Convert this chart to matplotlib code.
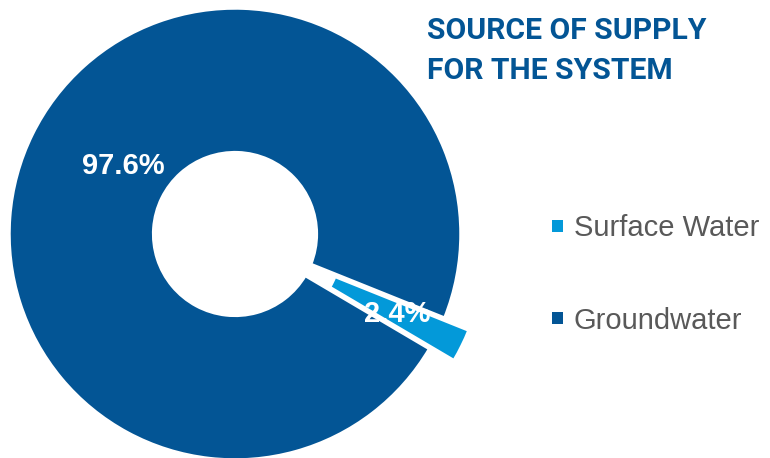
import numpy as np
import matplotlib
matplotlib.use("Agg")
import matplotlib.pyplot as plt
from matplotlib.patches import Patch

labels = ['Surface Water', 'Groundwater']
shares = [2.4, 97.6]
colors = ['#0399d9', '#035595']
explode = [0.12, 0]
title_lines = ['SOURCE OF SUPPLY', 'FOR THE SYSTEM']


def plot_donut():
    fig = plt.figure(figsize=(7.7, 4.58), dpi=100)
    ax = fig.add_axes([9 / 770, -2 / 458, 452 / 770, 452 / 458])

    # small slice centred at about -26 degrees
    start = -26.2 - shares[0] / 100 * 360 / 2
    wedges, texts, autotexts = ax.pie(
        shares, colors=colors, explode=explode, startangle=start,
        autopct='%.1f%%', pctdistance=0.68,
        wedgeprops=dict(width=0.64, edgecolor='white', linewidth=2.5),
        textprops=dict(color='white', fontsize=21, fontweight='bold',
                       family=['Liberation Sans', 'DejaVu Sans']))
    for w in wedges:
        w.set_clip_on(False)

    # big label sits closer to the hole in the original
    x, y = autotexts[1].get_position()
    ang = np.arctan2(y, x) - np.radians(5)
    autotexts[1].set_position((0.58 * np.cos(ang), 0.58 * np.sin(ang)))
    for t in autotexts:
        t.set_clip_on(False)

    ax.set_xlim(-1, 1)
    ax.set_ylim(-1, 1)
    ax.set_aspect('equal')
    ax.axis('off')

    for i, line in enumerate(title_lines):
        fig.text(427 / 770, 1 - (39 + 40 * i) / 458, line, color=colors[1],
                 fontsize=21.7, fontweight='bold', va='baseline', ha='left',
                 family=['Roboto', 'DejaVu Sans'])

    handles = [Patch(facecolor=c, edgecolor='none') for c in colors]
    fig.legend(handles, labels, loc='center left',
               bbox_to_anchor=(552 / 770, 1 - 274.5 / 458),
               frameon=False, borderpad=0, borderaxespad=0,
               handlelength=0.39, handleheight=0.23, handletextpad=0.35,
               labelspacing=2.2, labelcolor='#595959',
               prop=dict(family='Liberation Sans', size=21))

    fig.savefig('out.png', dpi=100)


plot_donut()
